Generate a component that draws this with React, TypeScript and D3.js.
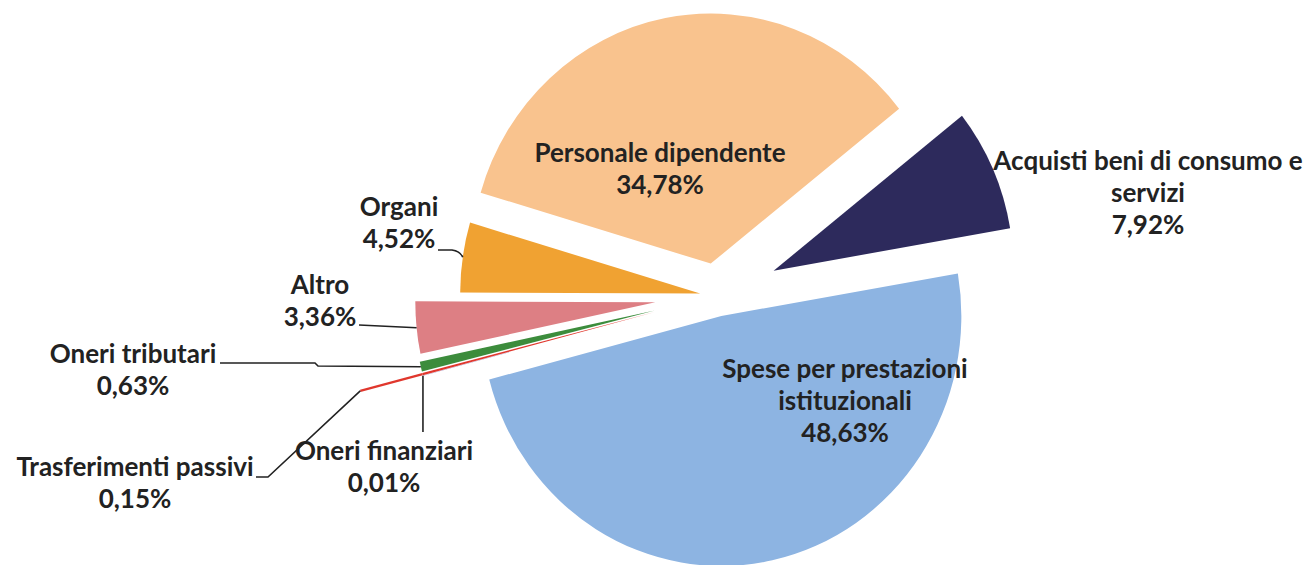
import React from 'react';
import * as d3 from 'd3';

// ---- data (clockwise order, starting from the upper-right slice) ----
const categories = [
  'Acquisti beni di consumo e servizi',
  'Spese per prestazioni istituzionali',
  'Oneri finanziari',
  'Trasferimenti passivi',
  'Oneri tributari',
  'Altro',
  'Organi',
  'Personale dipendente',
];
const values = [7.92, 48.63, 0.01, 0.15, 0.63, 3.36, 4.52, 34.78];
const valueLabels = ['7,92%', '48,63%', '0,01%', '0,15%', '0,63%', '3,36%', '4,52%', '34,78%'];
const nameLines = [
  ['Acquisti beni di consumo e', 'servizi'],
  ['Spese per prestazioni', 'istituzionali'],
  ['Oneri finanziari'],
  ['Trasferimenti passivi'],
  ['Oneri tributari'],
  ['Altro'],
  ['Organi'],
  ['Personale dipendente'],
];

// ---- styling / layout ----
const colors = ['#2D2A5C', '#8DB4E2', '#7E5FA2', '#E0372D', '#3C8C3C', '#DD7F84', '#F0A232', '#F9C38E'];
const explode = [62, 20.5, 64, 64, 64, 62, 17, 33];
const labelAnchor = [
  [1148, 170], [845, 378], [384, 460], [135, 476], [133, 363], [320, 294], [399, 216], [660, 162],
];
// label-side leader points (null = no leader)
const leaderLabelSide: (number[][] | null)[] = [
  null, null, null,
  [[256, 477], [268, 477]],
  [[220, 363], [315, 363], [318, 366]],
  [[359, 325]],
  [[438, 250], [452, 250]],
  null,
];

const W = 1309;
const H = 565;
const CX = 717;
const CY = 296;
const RY = 250;
const SX = 0.96;
const START = (51.7 * Math.PI) / 180;
const LINE_H = 32;
const FONT_SIZE = 26;

export default function App() {
  const pie = d3
    .pie<number>()
    .sort(null)
    .value((d) => d)
    .startAngle(START)
    .endAngle(START + 2 * Math.PI);
  const arcs = pie(values);
  const arcGen = d3.arc<d3.PieArcDatum<number>>().innerRadius(0).outerRadius(RY);

  const apexOf = (i: number) => {
    const a = (arcs[i].startAngle + arcs[i].endAngle) / 2;
    return [CX + explode[i] * Math.sin(a), CY - explode[i] * Math.cos(a)];
  };
  const pointOf = (i: number, r: number) => {
    const a = (arcs[i].startAngle + arcs[i].endAngle) / 2;
    const [ax, ay] = apexOf(i);
    return [ax + SX * r * Math.sin(a), ay - r * Math.cos(a)];
  };

  const line = d3.line();

  const leaders: JSX.Element[] = [];
  leaderLabelSide.forEach((pts, i) => {
    if (!pts) return;
    const outer = pointOf(i, RY);
    if (i === 3) {
      // first segment runs outward along the slice, in slice colour
      const ext = pointOf(i, RY + 67);
      leaders.push(
        <path key={'lr' + i} d={line([outer as [number, number], ext as [number, number]]) || ''} stroke={colors[i]} strokeWidth={2.2} fill="none" />
      );
      leaders.push(
        <path key={'lb' + i} d={line([...(pts as [number, number][]), ext as [number, number]]) || ''} stroke="#222" strokeWidth={1.6} fill="none" />
      );
    } else if (i === 6) {
      const last = pts[pts.length - 1];
      const d = `M${pts[0][0]},${pts[0][1]} L${last[0]},${last[1]} Q${last[0] + 8},${last[1] + 1} ${outer[0]},${outer[1]}`;
      leaders.push(<path key={'l' + i} d={d} stroke="#222" strokeWidth={1.6} fill="none" />);
    } else {
      leaders.push(
        <path key={'l' + i} d={line([...(pts as [number, number][]), outer as [number, number]]) || ''} stroke="#222" strokeWidth={1.6} fill="none" />
      );
    }
  });
  // Oneri finanziari: vertical leader down to its label
  {
    const outer = pointOf(2, RY);
    leaders.push(
      <path key="lfin" d={line([[outer[0], outer[1]], [outer[0], 432]]) || ''} stroke="#222" strokeWidth={1.6} fill="none" />
    );
  }

  return (
    <svg
      width={W}
      height={H}
      style={{ position: 'absolute', left: 0, top: 0, background: '#fff' }}
      fontFamily="Lato, 'Open Sans', sans-serif"
    >
      <rect width={W} height={H} fill="#fff" />
      {arcs.map((a, i) => {
        const [ax, ay] = apexOf(i);
        return (
          <path
            key={categories[i]}
            d={arcGen(a) || ''}
            transform={`translate(${ax},${ay}) scale(${SX},1)`}
            fill={colors[i]}
          />
        );
      })}
      {leaders}
      {categories.map((c, i) => {
        const lines = [...nameLines[i], valueLabels[i]];
        const [x, y] = labelAnchor[i];
        return (
          <text key={'t' + c} x={x} y={y} textAnchor="middle" fontSize={FONT_SIZE} fontWeight={700} fill="#222">
            {lines.map((ln, j) => (
              <tspan key={j} x={x} y={y + j * LINE_H}>
                {ln}
              </tspan>
            ))}
          </text>
        );
      })}
    </svg>
  );
}
